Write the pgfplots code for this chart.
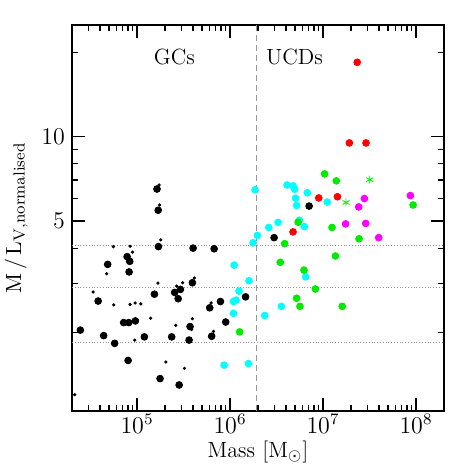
\documentclass[border=0pt]{standalone}
\usepackage{pgfplots}
\pgfplotsset{compat=1.18}
\definecolor{ucdcyan}{RGB}{0,255,255}
\definecolor{ucdgreen}{RGB}{0,235,0}
\definecolor{ucdred}{RGB}{255,0,0}
\definecolor{ucdmag}{RGB}{255,0,255}
\definecolor{refgray}{RGB}{150,150,150}

\begin{document}
\begin{tikzpicture}
\begin{axis}[
  scale only axis, width=186pt, height=193pt,
  xmode=log, ymode=log,
  xmin=2e4, xmax=2e8, ymin=1.05, ymax=25,
  tick align=inside, xtick pos=both, ytick pos=both,
  major tick length=6.5pt, minor tick length=3pt,
  axis line style={line width=0.6pt},
  tick style={line width=0.6pt, black},
  ytick={5,10}, yticklabels={5,10},
  minor ytick={2,3,4,6,7,8,9,20},
  ticklabel style={font=\large},
  xticklabel style={yshift=2pt},
  xlabel={Mass [M$_\odot$]},
  ylabel={$\mathrm{M\,/\,L_{V,normalised}}$},
  label style={font=\fontsize{11}{13}\selectfont},
  xlabel style={yshift=3pt},
  every axis plot/.append style={only marks},
  clip=true,
]
% reference lines
\addplot[refgray, densely dotted, no marks, sharp plot] coordinates {(2e4,4.09) (2e8,4.09)};
\addplot[refgray, densely dotted, no marks, sharp plot] coordinates {(2e4,2.90) (2e8,2.90)};
\addplot[refgray, densely dotted, no marks, sharp plot] coordinates {(2e4,1.85) (2e8,1.85)};
\addplot[refgray, dash pattern=on 3pt off 2pt, no marks, sharp plot] coordinates {(1.94e6,1.05) (1.94e6,25)};

% GCs, small
\addplot[mark=*, mark size=0.6pt, black] coordinates {
(1.73e5,6.72) (1.75e5,5.70) (1.80e5,4.28) (5.57e4,4.05) (8.43e4,4.06)
(8.93e4,3.87) (4.72e4,3.24) (1.68e5,3.00) (4.14e5,3.13) (3.10e5,3.01)
(2.67e5,2.93) (3.37e4,2.79) (5.61e4,2.51) (8.43e4,2.52) (9.54e4,2.55)
(1.10e5,2.53) (1.40e5,2.25) (2.61e5,2.12) (3.94e5,2.24) (6.26e5,2.55)
(3.87e5,2.05) (9.45e4,1.88) (6.64e5,2.02) (2.04e5,1.57) (3.24e5,1.49)
(2.14e4,1.20)
};
% GCs, big
\addplot[mark=*, mark size=1.7pt, black] coordinates {
(1.64e5,6.50) (1.69e5,5.46) (1.70e5,4.05) (4.01e5,4.00) (6.75e5,3.98)
(4.84e4,3.50) (7.83e4,3.73) (8.35e4,3.59) (8.22e4,3.29) (3.94e5,3.01)
(2.93e5,2.85) (1.54e5,2.74) (2.54e5,2.78) (2.77e5,2.64) (3.82e4,2.59)
(7.89e5,2.58) (6.05e5,2.45) (1.47e6,2.68) (7.19e4,2.17) (8.15e4,2.17)
(9.61e4,2.20) (8.99e5,2.18) (2.46e4,2.04) (4.38e4,1.95) (5.75e4,1.83)
(1.20e5,1.93) (2.36e5,1.93) (3.72e5,2.10) (3.63e5,1.88) (6.35e5,1.94)
(8.02e4,1.59) (1.77e5,1.37) (2.84e5,1.30) (7.09e6,5.65) (2.98e6,4.36)
};
% cyan
\addplot[mark=*, mark size=1.7pt, ucdcyan] coordinates {
(1.86e6,6.46) (4.11e6,6.72) (4.77e6,6.67) (4.96e6,6.49) (6.79e6,6.30)
(5.08e6,6.03) (5.21e6,5.68) (1.11e7,5.84) (3.29e6,4.94) (2.61e6,4.74)
(5.57e6,5.03) (6.31e6,4.77) (1.97e6,4.44) (1.77e6,4.18) (1.11e6,3.48)
(1.60e6,3.06) (1.25e6,2.81) (1.16e6,2.61) (1.09e6,2.58) (1.09e6,2.34)
(6.52e6,3.16) (3.57e6,2.48) (2.36e6,2.30) (8.65e5,1.53) (1.58e6,1.55)
};
% green
\addplot[mark=*, mark size=1.7pt, ucdgreen] coordinates {
(1.04e7,7.36) (1.39e7,6.95) (9.31e7,5.70) (5.40e6,4.95) (1.25e7,4.74)
(3.87e6,4.15) (2.44e7,4.32) (1.36e7,3.75) (3.47e6,3.56) (6.24e6,3.34)
(8.28e6,2.86) (5.20e6,2.65) (5.65e6,2.48) (1.61e7,2.48) (1.27e6,2.01)
};
% green asterisks
\addplot[mark=asterisk, mark size=2pt, ucdgreen, thin] coordinates {
(3.18e7,7.02) (1.77e7,5.82)
};
% red
\addplot[mark=*, mark size=1.7pt, ucdred] coordinates {
(2.33e7,18.4) (1.92e7,9.49) (2.90e7,9.49) (9.00e6,6.04) (1.43e7,6.10)
(4.76e6,4.57)
};
% magenta
\addplot[mark=*, mark size=1.7pt, ucdmag] coordinates {
(8.71e7,6.16) (2.79e7,6.01) (2.42e7,5.61) (1.75e7,4.88) (2.88e7,4.90)
(3.97e7,4.36)
};

\node[font=\fontsize{11}{13}\selectfont] at (axis cs:2.52e5,19.3) {GCs};
\node[font=\fontsize{11}{13}\selectfont] at (axis cs:4.93e6,19.3) {UCDs};
\end{axis}
\pgfresetboundingbox
\path[use as bounding box] ([xshift=-36pt,yshift=-29pt]current axis.south west)
  rectangle ([xshift=12.5pt,yshift=12.5pt]current axis.north east);
\end{tikzpicture}
\end{document}
